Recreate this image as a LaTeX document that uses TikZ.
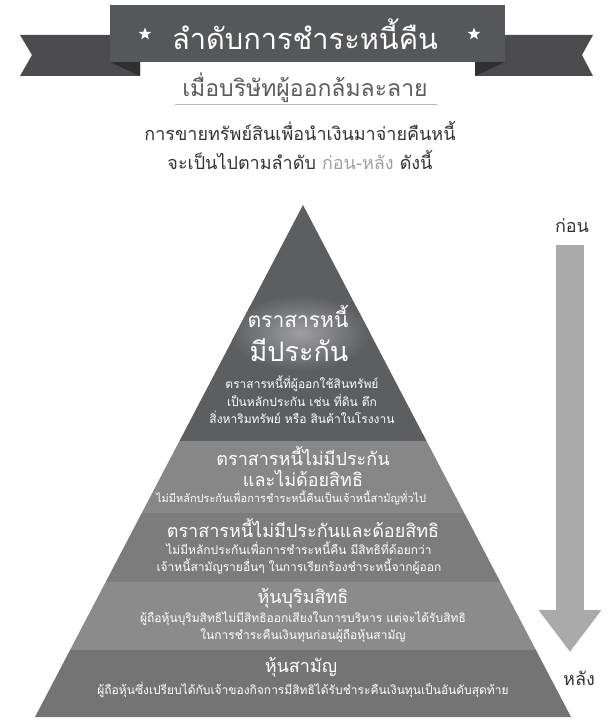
\documentclass[tikz,border=0pt]{standalone}
\usepackage{fontspec}
\setmainfont{Loma}[Script=Thai]
\usetikzlibrary{shapes.geometric,arrows.meta,calc,positioning}
\definecolor{bannercol}{HTML}{565759}
\definecolor{tailcol}{HTML}{4B4B4D}
\definecolor{foldcol}{HTML}{2F2F31}
\definecolor{tierA}{HTML}{5D5E62}
\definecolor{tierB}{HTML}{878787}
\definecolor{tierC}{HTML}{7C7C7C}
\definecolor{tierD}{HTML}{8B8B8B}
\definecolor{tierE}{HTML}{747474}
\definecolor{arrowcol}{HTML}{AAAAAA}
\definecolor{inkcol}{HTML}{333333}
\tikzstyle{title} = [text=white, font=\fontsize{29}{34}\selectfont, inner sep=0pt]
\tikzstyle{starmark} = [star, star points=5, star point ratio=2.4, fill=white, inner sep=0pt, minimum size=13pt]
\tikzstyle{subtitle} = [text=inkcol!80, font=\fontsize{23}{28}\selectfont, inner sep=0pt]
\tikzstyle{intro} = [text=inkcol, font=\fontsize{18}{22}\selectfont, inner sep=0pt]
\tikzstyle{head} = [text=white, font=\fontsize{18}{22}\selectfont, inner sep=0pt]
\tikzstyle{note} = [text=white, font=\fontsize{12}{17.5}\selectfont, align=center, inner sep=0pt]
\tikzstyle{side} = [text=inkcol, font=\fontsize{18}{22}\selectfont, inner sep=0pt]

\begin{document}
\begin{tikzpicture}[x=1pt, y=-1pt]
	\useasboundingbox (0,0) rectangle (608,722);

	% banner
	\fill[tailcol] (20,35) -- (140,35) -- (140,76) -- (20,76) -- (32,55) -- cycle;
	\fill[foldcol] (110,62) -- (140,62) -- (140,76) -- cycle;
	\fill[tailcol] (475,35) -- (593,35) -- (582,55) -- (593,76) -- (475,76) -- cycle;
	\fill[foldcol] (475,62) -- (505,62) -- (475,76) -- cycle;
	\fill[bannercol] (110,5) rectangle (505,62);
	\node[title, name = TITLE] at (305,34) {ลำดับการชำระหนี้คืน};
	\node[starmark, name = STARL] at (145,34) {};
	\node[starmark, name = STARR] at (474,34) {};

	\node[subtitle, name = SUB] at (305,88) {เมื่อบริษัทผู้ออกล้มละลาย};
	\coordinate (ULA) at (175,104);
	\coordinate (ULB) at (437,104);
	\draw[gray!55, thin] (ULA) -- (ULB);

	\node[intro, name = INTA] at (300,131) {การขายทรัพย์สินเพื่อนำเงินมาจ่ายคืนหนี้};
	\node[intro, name = INTB] at (300,160) {จะเป็นไปตามลำดับ \textcolor{gray!75}{ก่อน-หลัง} ดังนี้};

	% pyramid
	\coordinate (apex) at (303,205);
	\coordinate (bl) at (35,717);
	\coordinate (br) at (571,717);
	\foreach \ta/\tb/\col in {0/0.461/tierA, 0.461/0.602/tierB, 0.602/0.736/tierC, 0.736/0.869/tierD, 0.869/1/tierE}
		\fill[\col] ($(apex)!\ta!(bl)$) -- ($(apex)!\tb!(bl)$) -- ($(apex)!\tb!(br)$) -- ($(apex)!\ta!(br)$) -- cycle;
	\begin{scope}
		\clip (apex) -- ($(apex)!0.461!(bl)$) -- ($(apex)!0.461!(br)$) -- cycle;
		\shade[inner color=tierA!60!white, outer color=tierA] (300,333) ellipse (70 and 38);
	\end{scope}

	\node[head, name = SECA, font=\fontsize{21}{24}\selectfont] at (298,316) {ตราสารหนี้};
	\node[head, name = SECB, font=\fontsize{27}{32}\selectfont] at (299,350) {มีประกัน};
	\node[note, name = SECN] at (302,400) {ตราสารหนี้ที่ผู้ออกใช้สินทรัพย์\\เป็นหลักประกัน เช่น ที่ดิน ตึก\\สิ่งหาริมทรัพย์ หรือ สินค้าในโรงงาน};

	\node[head, name = UNSA] at (303,456) {ตราสารหนี้ไม่มีประกัน};
	\node[head, name = UNSB] at (303,478) {และไม่ด้อยสิทธิ};
	\node[note, name = UNSN, font=\fontsize{11}{14}\selectfont] at (291,498) {ไม่มีหลักประกันเพื่อการชำระหนี้คืนเป็นเจ้าหนี้สามัญทั่วไป};

	\node[head, name = SUBA] at (303,528) {ตราสารหนี้ไม่มีประกันและด้อยสิทธิ};
	\node[note, name = SUBN] at (299,558) {ไม่มีหลักประกันเพื่อการชำระหนี้คืน มีสิทธิที่ด้อยกว่า\\เจ้าหนี้สามัญรายอื่นๆ ในการเรียกร้องชำระหนี้จากผู้ออก};

	\node[head, name = PREA] at (303,598) {หุ้นบุริมสิทธิ};
	\node[note, name = PREN] at (303,627) {ผู้ถือหุ้นบุริมสิทธิไม่มีสิทธิออกเสียงในการบริหาร แต่จะได้รับสิทธิ\\ในการชำระคืนเงินทุนก่อนผู้ถือหุ้นสามัญ};

	\node[head, name = COMA] at (301,667) {หุ้นสามัญ};
	\node[note, name = COMN] at (303,690) {ผู้ถือหุ้นซึ่งเปรียบได้กับเจ้าของกิจการมีสิทธิได้รับชำระคืนเงินทุนเป็นอันดับสุดท้าย};

	% order arrow
	\node[side, name = FIRST] at (572,226) {ก่อน};
	\node[side, name = LAST] at (579,678) {หลัง};
	\coordinate (ARRTOP) at (570,245);
	\coordinate (ARRTIP) at (570,652);
	\draw[arrowcol, line width=28pt, -{Triangle[width=60pt,length=42pt]}] (ARRTOP) -- (ARRTIP);

\end{tikzpicture}
\end{document}
